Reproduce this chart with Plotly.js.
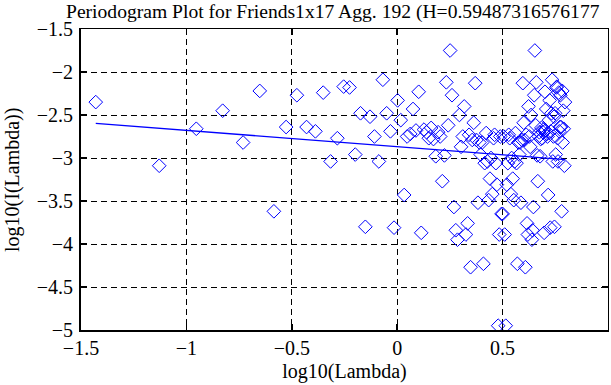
<!DOCTYPE html>
<html>
<head>
<meta charset="utf-8">
<script src="https://cdn.plot.ly/plotly-3.0.1.min.js"></script>
<style>html,body{margin:0;padding:0;background:#fff;}#chart{width:611px;height:385px;}</style>
</head>
<body>
<div id="chart"></div>
<script>
// log10(Lambda) for each periodogram frequency
var logLambda = [
-1.430,-1.129,-0.953,-0.828,-0.731,-0.652,-0.585,-0.527,-0.476,-0.430,
-0.388,-0.351,-0.316,-0.284,-0.254,-0.226,-0.199,-0.174,-0.151,-0.129,
-0.108,-0.087,-0.068,-0.050,-0.032,-0.015,0.002,0.017,0.033,0.047,
0.062,0.075,0.089,0.102,0.114,0.127,0.139,0.150,0.161,0.172,
0.183,0.194,0.204,0.214,0.224,0.233,0.242,0.251,0.260,0.269,
0.278,0.286,0.295,0.303,0.311,0.318,0.326,0.334,0.341,0.348,
0.356,0.363,0.370,0.376,0.383,0.390,0.396,0.403,0.409,0.415,
0.422,0.428,0.434,0.440,0.445,0.451,0.457,0.462,0.468,0.473,
0.479,0.484,0.489,0.495,0.500,0.505,0.510,0.515,0.520,0.525,
0.529,0.534,0.539,0.543,0.548,0.553,0.557,0.561,0.566,0.570,
0.575,0.579,0.583,0.587,0.591,0.596,0.600,0.604,0.608,0.612,
0.616,0.620,0.623,0.627,0.631,0.635,0.639,0.642,0.646,0.650,
0.653,0.657,0.660,0.664,0.667,0.671,0.674,0.678,0.681,0.684,
0.688,0.691,0.694,0.697,0.701,0.704,0.707,0.710,0.713,0.716,
0.720,0.723,0.726,0.729,0.732,0.735,0.738,0.741,0.744,0.746,
0.749,0.752,0.755,0.758,0.761,0.763,0.766,0.769,0.772,0.774,
0.777,0.780,0.783,0.785,0.788,0.790,0.793,0.796
];
// log10(I(Lambda))
var logI = [
-2.35,-3.09,-2.66,-2.45,-2.82,-2.22,-3.62,-2.64,-2.27,-2.64,
-2.69,-2.24,-3.04,-2.77,-2.17,-2.18,-2.96,-2.48,-3.80,-2.52,
-2.75,-3.04,-2.09,-2.48,-2.69,-3.81,-2.33,-2.56,-3.43,-2.75,
-2.72,-2.43,-2.68,-2.23,-3.87,-2.67,-2.70,-2.77,-2.65,-2.78,
-2.98,-2.70,-2.75,-3.27,-2.97,-2.12,-2.62,-1.75,-2.27,-3.57,
-3.84,-3.95,-2.50,-2.87,-2.75,-2.40,-3.89,-3.76,-2.73,-4.27,
-2.79,-2.59,-2.13,-2.79,-3.52,-2.82,-2.96,-2.82,-4.23,-3.06,
-2.71,-3.04,-3.49,-3.24,-3.00,-3.42,-2.77,-2.73,-3.06,-3.31,
-4.95,-3.89,-2.75,-3.65,
-3.65,-2.75,-3.89,-4.95,
-3.31,-3.06,-2.73,-2.77,-3.42,-3.00,-3.24,-3.49,-3.04,-2.71,
-3.06,-4.23,-2.82,-2.96,-2.82,-3.52,-2.79,-2.13,-2.59,-2.79,
-4.27,-2.73,-3.76,-3.89,-2.40,-2.75,-2.87,-2.50,-3.95,-3.84,
-3.57,-2.27,-1.75,-2.62,-2.12,-2.97,-3.27,-2.75,-2.70,-2.98,
-2.78,-2.65,-2.77,-2.70,-2.67,-3.87,-2.23,-2.68,-2.43,-2.72,
-2.75,-3.43,-2.56,-2.33,-3.81,-2.69,-2.48,-2.09,-3.04,-2.75,
-2.52,-3.80,-2.48,-2.96,-2.18,-2.17,-2.77,-3.04,-2.24,-2.69,
-2.64,-2.27,-2.64,-3.62,-2.22,-2.82,-2.45,-2.66,-3.09,-2.35
];
// least-squares fit line end points
var fitX = [-1.430, 0.796];
var fitY = [-2.597, -3.019];

var xTicks = [-1.5, -1, -0.5, 0, 0.5, 1];
var xTickText = ['\u22121.5','\u22121','\u22120.5','0','0.5','1'];
var yTicks = [-5, -4.5, -4, -3.5, -3, -2.5, -2, -1.5];
var yTickText = ['\u22125','\u22124.5','\u22124','\u22123.5','\u22123','\u22122.5','\u22122','\u22121.5'];

var FONT = 'Liberation Serif, Times New Roman, serif';

var traces = [
  {
    x: logLambda, y: logI, type: 'scatter', mode: 'markers',
    marker: {symbol: 'diamond-open', size: 10.5, color: '#0000ff', line: {width: 1, color: '#0000ff'}},
    hoverinfo: 'skip', showlegend: false
  },
  {
    x: fitX, y: fitY, type: 'scatter', mode: 'lines',
    line: {color: '#0000ff', width: 1.3},
    hoverinfo: 'skip', showlegend: false
  },
  {x: [], y: [], xaxis: 'x2', yaxis: 'y2', type: 'scatter', mode: 'markers', showlegend: false}
];

var axCommon = {
  showgrid: true, gridcolor: '#000', gridwidth: 1, griddash: '6px,4px',
  zeroline: false, showline: true, linecolor: '#000', linewidth: 2,
  ticks: 'inside', ticklen: 6, tickwidth: 1.5, tickcolor: '#000',
  tickfont: {family: FONT, size: 20, color: '#000'}
};

var layout = {
  width: 611, height: 385,
  margin: {l: 81, r: 3, t: 29, b: 55, pad: 0},
  paper_bgcolor: '#fff', plot_bgcolor: '#fff',
  font: {family: FONT, size: 20, color: '#000'},
  title: {
    text: 'Periodogram Plot for Friends1x17 Agg. 192 (H=0.59487316576177',
    font: {family: FONT, size: 19.6, color: '#000'},
    xref: 'container', x: 0.108, xanchor: 'left',
    yref: 'container', y: 0.99, yanchor: 'top', pad: {t: 0}
  },
  xaxis: Object.assign({}, axCommon, {
    range: [-1.5, 1], tickvals: xTicks, ticktext: xTickText,
    ticklabelstandoff: -1,
    title: {text: 'log10(Lambda)', font: {family: FONT, size: 20, color: '#000'}, standoff: 6}
  }),
  yaxis: Object.assign({}, axCommon, {
    range: [-5, -1.5], tickvals: yTicks, ticktext: yTickText,
    ticklabelstandoff: 2
  }),
  xaxis2: {
    overlaying: 'x', side: 'top', anchor: 'y', range: [-1.5, 1], tickvals: xTicks,
    showgrid: false, zeroline: false, showline: true, linecolor: '#000', linewidth: 1,
    ticks: 'inside', ticklen: 6, tickwidth: 1.5, tickcolor: '#000', showticklabels: false
  },
  yaxis2: {
    overlaying: 'y', side: 'right', anchor: 'x', range: [-5, -1.5], tickvals: yTicks,
    showgrid: false, zeroline: false, showline: true, linecolor: '#000', linewidth: 1,
    ticks: 'inside', ticklen: 6, tickwidth: 1.5, tickcolor: '#000', showticklabels: false
  },
  annotations: [{
    text: 'log10(I(Lambda))', textangle: -90, showarrow: false,
    xref: 'paper', yref: 'paper', x: -0.130, y: 0.5, xanchor: 'center', yanchor: 'middle',
    font: {family: FONT, size: 20, color: '#000'}
  }]
};

Plotly.newPlot('chart', traces, layout, {staticPlot: true, displayModeBar: false});
</script>
</body>
</html>
